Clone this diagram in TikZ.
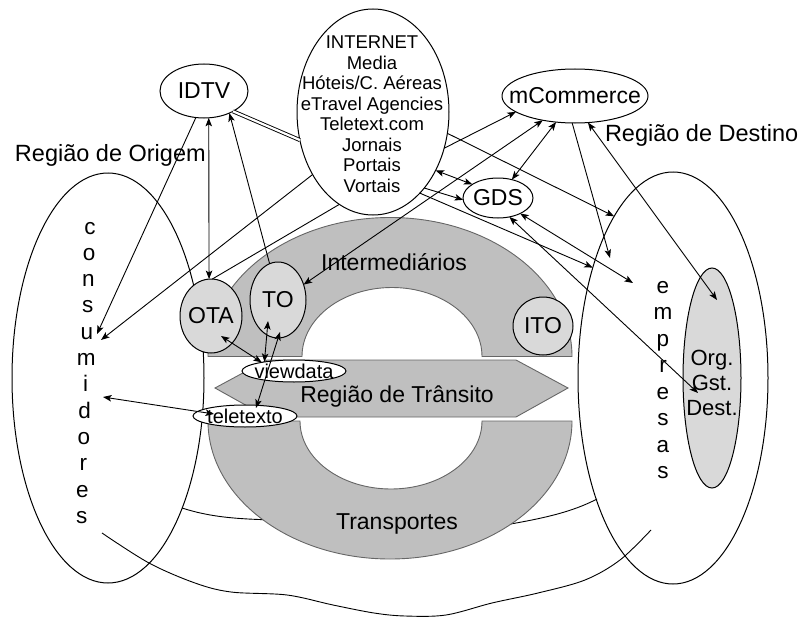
\documentclass[tikz,border=0pt]{standalone}
\usepackage{fontspec}
\setmainfont{Liberation Sans}
\usetikzlibrary{arrows.meta,shapes.geometric}
\newcommand{\ctext}[1]{\makebox[0pt]{#1}}
\begin{document}
\begin{tikzpicture}[x=1pt,y=-1pt,
  every node/.style={inner sep=0pt,outer sep=0pt},
  es/.style 2 args={minimum width=#1pt,minimum height=#2pt},
  bub/.style={ellipse,draw=black,line width=1pt,fill=white,font=\fontsize{23}{27}\selectfont},
  gbub/.style={bub,fill=black!15},
  small/.style={font=\fontsize{20}{24}\selectfont},
  region/.style={ellipse,draw=black,line width=1pt},
  ringpart/.style={fill=black!25,draw=black!60,line width=0.9pt},
  big/.style={font=\fontsize{23.5}{28}\selectfont},
  letter/.style={font=\fontsize{22.5}{26}\selectfont,anchor=base},
  listtext/.style={font=\fontsize{18.5}{20.5}\selectfont,anchor=base},
  >={Stealth[length=8.5pt,width=6.5pt,inset=2pt]},
  link/.style={line width=0.9pt},
  onearrow/.style={link,->},
  twoarrow/.style={link,<->},
  contour/.style={line width=0.9pt},
]
\useasboundingbox (0,0) rectangle (801,618);

% origin and destination regions
\node[region,es={192}{410}] (cons) at (108,378) {};
\node[region,es={190}{412}] (emp) at (673,378) {};
\node[big,anchor=base west] (origem) at (15,161) {Região de Origem};
\node[big,anchor=base west] (destino) at (605,141) {Região de Destino};
\foreach \l [count=\i from 0] in {c,o,n,s,u,m,i,d,o,r,e,s}
  \node[letter] (cons-\i) at ({90-0.75*\i},{234+26.3*\i}) {\l};
\foreach \l [count=\i from 0] in {e,m,p,r,e,s,a,s}
  \node[letter] (emp-\i) at (663,{293+26.5*\i}) {\l};

% contour lines running behind the transport ring
\draw[contour] (182,508) .. controls (210,517) and (235,519) .. (275,520);
\draw[contour] (505,525) .. controls (545,518) and (572,512) .. (597,499);
\draw[contour] plot[smooth,tension=0.55] coordinates {(102,533) (149,563) (195,583) (231,592) (287,595) (333,605) (374,613) (405,616) (446,615) (492,603) (538,593) (585,580) (620,560) (651,530)};

% intermediaries arch, transit band, transport arch
\path[ringpart] (208,356.5) arc[start angle=180,end angle=360,x radius=182,y radius=139]
  -- (482,356.5) arc[start angle=0,end angle=-180,x radius=90,y radius=69] -- cycle;
\path[ringpart] (215,388) -- (267,360) -- (516,360) -- (568,388) -- (516,417) -- (267,417) -- cycle;
\path[ringpart] (208,421) arc[start angle=180,end angle=0,x radius=182,y radius=138]
  -- (482,421) arc[start angle=0,end angle=180,x radius=91,y radius=68] -- cycle;
\node[big,font=\fontsize{23}{27}\selectfont,anchor=base] (interm) at (394,270) {Intermediários};
\node[big,font=\fontsize{23}{27}\selectfont,anchor=base] (transito) at (397,402) {Região de Trânsito};
\node[big,font=\fontsize{23}{27}\selectfont,anchor=base] (transp) at (397,529) {Transportes};

% channels and actors
\node[bub,es={88}{54}] (idtv) at (204,91) {\ctext{IDTV}};
\node[bub,es={152}{206}] (internet) at (373,112) {};
\foreach \t [count=\i from 0] in {INTERNET,Media,Hóteis/C. Aéreas,eTravel Agencies,Teletext.com,Jornais,Portais,Vortais}
  \node[listtext] (inet-\i) at (372,{48.6+20.5*\i}) {\t};
\node[bub,es={146}{54}] (mcom) at (575,96) {\ctext{mCommerce}};
\node[bub,es={70}{40}] (gds) at (498,198) {\ctext{GDS}};
\node[gbub,es={62}{74}] (ota) at (211,316) {\ctext{OTA}};
\node[gbub,es={56}{76}] (to) at (278,300) {\ctext{TO}};
\node[gbub,es={60}{58}] (ito) at (543,326) {\ctext{ITO}};
\node[bub,small,es={104}{22}] (viewdata) at (294,371) {\ctext{viewdata}};
\node[bub,small,es={104}{22}] (teletexto) at (245,416) {\ctext{teletexto}};
\node[gbub,es={58}{220}] (org) at (712,378) {};
\foreach \t [count=\i from 0] in {Org.,Gst.,Dest.}
  \node[letter,font=\fontsize{22}{25}\selectfont] (org-\i) at (712,{365+25*\i}) {\t};

% free ends inside the regions and actors
\coordinate (cons1) at (97,334);
\coordinate (cons2) at (101,340);
\coordinate (cons3) at (103,397);
\coordinate (emp2) at (633,283);
\coordinate (emp3) at (610,258);
\coordinate (org1) at (698,393);
\coordinate (org2) at (717,300);
\coordinate (ota1) at (221,336);
\coordinate (to1) at (268,321);
\coordinate (to2) at (280,332);
\coordinate (tt1) at (256,408);
\coordinate (tt2) at (214,414);

% links
\draw[link,double,double distance=2.2pt] (idtv.-35) -- (internet.-159);
\draw[twoarrow] (idtv.-80) -- (ota.93);
\draw[onearrow] (to.103) -- (idtv.-41);
\draw[onearrow] (idtv.-107) -- (cons1);
\draw[onearrow] (internet.-134) -- (cons2);
\draw[link] (internet.-110) -- (ota.88);
\draw[onearrow] (internet.-27) -- (mcom.-165);
\draw[twoarrow] (mcom.-143) -- (to.31);
\draw[twoarrow] (mcom.-126) -- (gds.53);
\draw[twoarrow] (internet.-43) -- (gds.152);
\draw[onearrow] (internet.-56) -- (gds.-177);
\draw[onearrow] (internet.-16) -- (emp.110);
\draw[onearrow] (internet.-60) -- (emp.126);
\draw[twoarrow] (gds.-35) -- (emp2);
\draw[twoarrow] (gds.-59) -- (org1);
\draw[onearrow] (mcom.-96) -- (emp3);
\draw[twoarrow] (mcom.-64) -- (org2);
\draw[twoarrow] (ota1) -- (viewdata.165);
\draw[twoarrow] (to1) -- (viewdata.163);
\draw[twoarrow] (to2) -- (tt1);
\draw[twoarrow] (cons3) -- (tt2);
\end{tikzpicture}
\end{document}
